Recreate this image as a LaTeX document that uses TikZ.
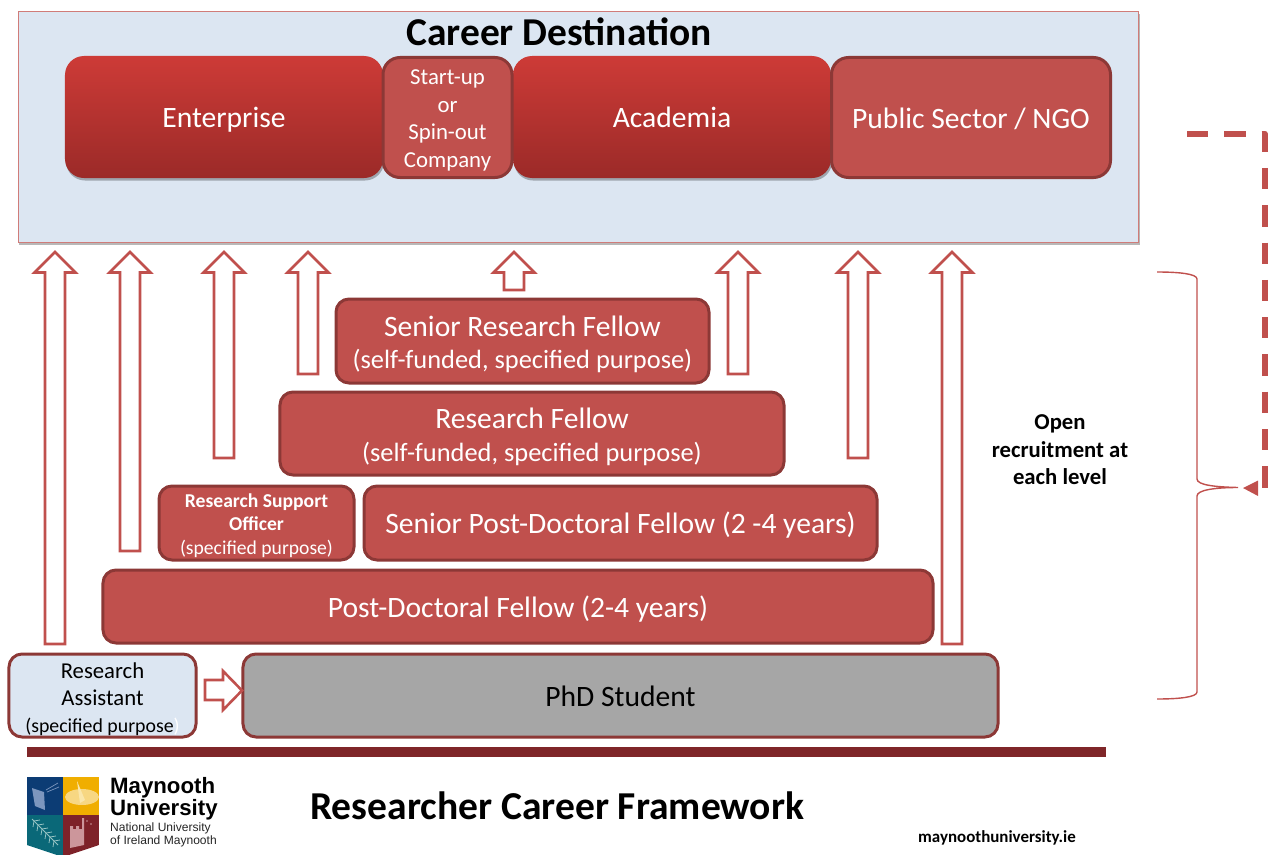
\documentclass[tikz,border=0pt]{standalone}
\usepackage{fontspec}
\setmainfont{Carlito}
\newfontfamily\logofont{Liberation Sans}
\usetikzlibrary{shadows,arrows.meta}
\definecolor{bluefill}{HTML}{DCE6F2}
\definecolor{redfill}{HTML}{C0504D}
\definecolor{redline}{HTML}{8C3836}
\definecolor{rulered}{HTML}{7F2629}
\definecolor{gradtop}{HTML}{CD3B37}
\definecolor{gradbot}{HTML}{9B2A28}
\definecolor{logoblue}{RGB}{12,60,116}
\definecolor{logoyellow}{RGB}{240,174,0}
\definecolor{logoteal}{RGB}{10,104,120}
\definecolor{logomaroon}{RGB}{126,34,41}
\definecolor{logobook}{RGB}{124,150,190}
\definecolor{logodial}{RGB}{247,215,130}
\definecolor{logogno}{RGB}{250,230,170}
\definecolor{logofern}{RGB}{150,195,195}
\definecolor{logotower}{RGB}{204,150,155}
\newcommand{\fsz}[2]{\fontsize{#1}{#2}\selectfont}
\newcommand{\onel}{\rule[-6bp]{0pt}{33bp}}
\newcommand{\toph}[1]{\rule{0pt}{#1bp}}
\newcommand{\uparrowshape}[3]{% centre x, tip y, bottom y
  \draw[blockarrow] (#1-10,#3) -- (#1-10,#2+20.5) -- (#1-20.5,#2+20.5) -- (#1,#2) -- (#1+20.5,#2+20.5) -- (#1+10,#2+20.5) -- (#1+10,#3) -- cycle;}
\tikzset{
  softshadow/.style={general shadow={shadow xshift=1bp,shadow yshift=-2.5bp,fill=black,opacity=.28}},
  rbox/.style={rounded corners=13bp,draw=redline,line width=3bp,fill=redfill,text=white,align=center,inner sep=0pt,anchor=center},
  gbox/.style={rounded corners=19bp,draw=none,top color=gradtop,bottom color=gradbot,text=white,align=center,inner sep=0pt,softshadow},
  blockarrow/.style={draw=redfill,line width=2.6bp,fill=white,miter limit=10},
  txtL/.style={font=\fsz{29.7}{34}},
  plain/.style={inner sep=0pt,align=center}
}
\begin{document}
\begin{tikzpicture}[x=1bp,y=-1bp]
\useasboundingbox (0,0) rectangle (1272,855);
% career destination panel
\node[draw=redfill!75!white,line width=1.3bp,fill=bluefill,minimum width=1120bp,minimum height=231bp,inner sep=0pt,softshadow] (panel) at (578.5,127) {};
\node[plain,font=\fsz{39.6}{44}\bfseries] (title) at (559,32) {Career Destination};
\node[gbox,minimum width=318bp,minimum height=122bp,txtL] (enterprise) at (224,117) {\onel Enterprise};
\node[gbox,minimum width=318bp,minimum height=122bp,txtL] (academia) at (672,117) {\onel Academia};
\node[rbox,rounded corners=17bp,minimum width=129bp,minimum height=120bp,font=\fsz{22.9}{27.7}] (startup) at (447.5,117.5) {\toph{21}Start-up\\or\\Spin-out\\Company};
\node[rbox,rounded corners=17bp,minimum width=279bp,minimum height=120bp,txtL] (public) at (971,117.5) {\onel Public Sector / NGO};
% ladder
\node[rbox,minimum width=373bp,minimum height=84bp,font=\fsz{29.7}{33}] (srf) at (522.5,341) {\toph{27}Senior Research Fellow\\[-1bp]{\fsz{26.5}{30}(self-funded, specified purpose)}};
\node[rbox,minimum width=504bp,minimum height=83bp,font=\fsz{29.7}{33}] (rf) at (532,433.5) {\toph{28}Research Fellow\\[0bp]{\fsz{26.5}{30}(self-funded, specified purpose)}};
\node[rbox,minimum width=195bp,minimum height=74bp,font=\fsz{19.7}{23.7}] (rso) at (256.5,523) {\toph{19}\bfseries Research Support\\\bfseries Officer\\(specified purpose)};
\node[rbox,minimum width=513bp,minimum height=74bp,txtL] (spdf) at (620.5,523) {\onel Senior Post-Doctoral Fellow (2 -4 years)};
\node[rbox,minimum width=830bp,minimum height=73bp,txtL] (pdf) at (518,606.5) {\onel Post-Doctoral Fellow (2-4 years)};
\node[rbox,fill=bluefill,text=black,minimum width=187bp,minimum height=83bp,font=\fsz{22.8}{27}] (ra) at (102.5,695.5) {\toph{23}Research\\Assistant\\{\fsz{19.9}{26.5}(specified purpose\textcolor{white}{)}}};
\node[rbox,fill=black!35,text=black,minimum width=755bp,minimum height=83bp,txtL] (phd) at (620.5,695.5) {\onel PhD Student};
% block arrows
\uparrowshape{55}{252}{644}
\uparrowshape{130}{252}{551}
\uparrowshape{224}{252}{458}
\uparrowshape{308}{252}{374}
\uparrowshape{514}{252}{290}
\uparrowshape{738}{252}{374}
\uparrowshape{858}{252}{458}
\uparrowshape{952}{252}{644}
\draw[blockarrow] (205,680) -- (223,680) -- (223,671) -- (242,690.5) -- (223,710) -- (223,700) -- (205,700) -- cycle;
% footer rule
\fill[rulered] (27,747) rectangle (1106,757);
% recruitment label and brace
\node[plain,font=\fsz{22.8}{27.5}\bfseries] (open) at (1060,450) {Open\\recruitment at\\each level};
\coordinate (bracetip) at (1238,487.5);
\draw[redfill,line width=1.4bp] (1157,272) .. controls (1180,272) and (1197,274) .. (1197,279) -- (1197,479) .. controls (1197,485) and (1215,487) .. (bracetip) .. controls (1215,487.5) and (1197,490) .. (1197,496) -- (1197,692) .. controls (1197,697) and (1180,699) .. (1157,699);
% dashed return arrow
\coordinate (dashstart) at (1187,133.5);
\coordinate (dashcorner) at (1264.5,133.5);
\coordinate (dashend) at (1264.5,487.5);
\draw[redfill,line width=6bp,dash pattern=on 21.3bp off 16bp,line join=round] (dashstart) -- (dashcorner) -- (dashend);
\fill[redfill] (1243,488) -- (1258,480.5) -- (1258,496) -- cycle;
% logo
\begin{scope}
\clip (27,777) -- (99,777) -- (99,845) -- (63,857) -- (27,845) -- cycle;
\fill[logoblue] (27,777) rectangle (63,815);
\fill[logoyellow] (63,777) rectangle (99,815);
\fill[logoteal] (27,815) rectangle (63,857);
\fill[logomaroon] (63,815) rectangle (99,857);
\fill[logobook] (32,788) -- (44,792) -- (45,810) -- (35,806) -- cycle;
\draw[logobook,line width=.7bp] (46,790) -- (58,783) (47,792) -- (59,787);
\fill[logodial] (82,797) ellipse (17bp and 8bp);
\fill[logogno] (77,781) -- (85,800) -- (80,803) -- cycle;
\draw[logofern,line width=1bp] (32,819) -- (58,845);
\foreach \t in {0,4,8,12,16,20}{\draw[logofern,line width=.8bp] (34+\t,821+\t) -- (40+\t,820+\t) (34+\t,821+\t) -- (33+\t,827+\t);}
\fill[logotower] (70,826) -- (73,826) -- (73,829) -- (76,829) -- (76,826) -- (79,826) -- (79,829) -- (82,829) -- (82,818) -- (84,818) -- (84,845) -- (70,848) -- cycle;
\fill[logotower] (87,821) circle (.9bp) (91,824) circle (.9bp);
\end{scope}
\node[plain,anchor=west,font=\logofont\fsz{22.3}{19}\bfseries,align=left] (logoname) at (110,799) {Maynooth\\University};
\node[plain,anchor=west,font=\logofont\fsz{12.1}{13.7},align=left,text=black!85] (logosub) at (110,835) {National University\\of Ireland Maynooth};
% footer titles
\node[plain,anchor=west,font=\fsz{39.7}{44}\bfseries] (frame) at (310,806) {Researcher Career Framework};
\node[plain,anchor=west,font=\fsz{17}{20}\bfseries] (web) at (918,838) {maynoothuniversity.ie};
\end{tikzpicture}
\end{document}
